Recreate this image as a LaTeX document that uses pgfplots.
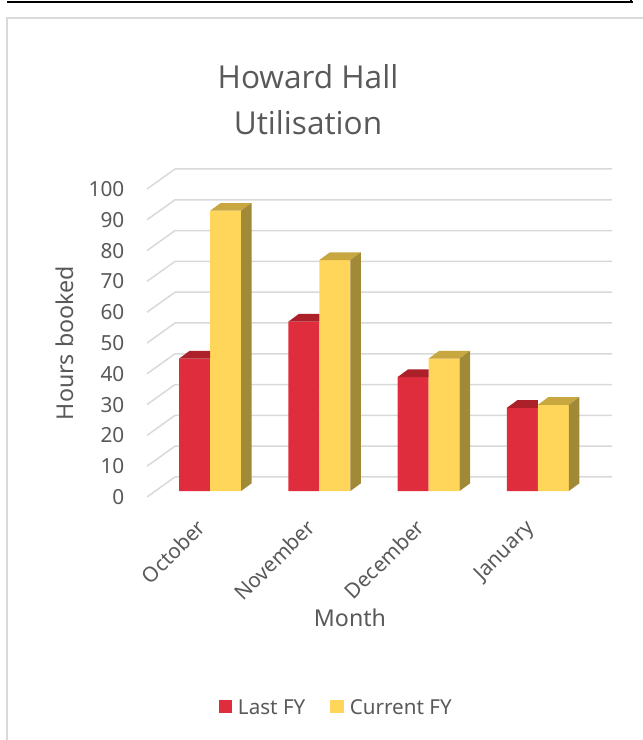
\documentclass[border=0pt]{standalone}
\usepackage{pgfplots}
\pgfplotsset{compat=1.18}
\usepackage{fontspec}
\setmainfont{Noto Sans}
\newfontfamily\titlefont{Open Sans}
\definecolor{txt}{HTML}{595959}
\definecolor{gridc}{HTML}{D9D9D9}
\definecolor{redF}{HTML}{E02D3E}
\definecolor{redT}{HTML}{AC202A}
\definecolor{yelF}{HTML}{FFD55A}
\definecolor{yelT}{HTML}{C8A640}
\definecolor{yelS}{HTML}{A08A38}
\definecolor{framec}{HTML}{D9D9D9}

\begin{document}
\begin{tikzpicture}[x=1pt,y=1pt]
% frame
\fill[black] (7,737) rectangle (633,739);
\fill[black] (630,737) rectangle (632,740);
\draw[framec, line width=2.5pt] (7,0) -- (7,722) -- (643,722);
% back wall and side wall gridlines
\foreach \v in {0,10,...,100}{
  \draw[gridc, line width=1.5pt] (147,{243+3.08*\v}) -- (175,{263+3.08*\v}) -- (612,{263+3.08*\v});
}
\begin{axis}[
  scale only axis, width=437pt, height=308pt,
  at={(155.5pt,249pt)}, anchor=south west,
  xmin=-0.5, xmax=3.5, ymin=0, ymax=100,
  ybar=0pt, bar width=31pt,
  axis line style={draw=none}, major tick length=0pt,
  xtick={0,1,2,3}, xticklabels={October,November,December,January},
  ytick={0,10,...,100},
  clip=false,
  ticklabel style={font=\fontsize{20.8}{25}\selectfont, text=txt},
  /pgf/number format/assume math mode=true,
  yticklabel style={anchor=east, inner sep=0pt, xshift=-31pt, yshift=-6pt},
  xticklabel style={xshift=-3pt, yshift=-38pt, rotate=45, anchor=base east, inner sep=0pt},
  legend columns=2,
  legend style={at={(axis description cs:0.411,-0.7045)}, anchor=center, draw=none, fill=none,
    font=\fontsize{20.6}{25}\selectfont, text=txt, nodes={inner sep=0pt},
    /tikz/every odd column/.append style={column sep=6pt},
    /tikz/every even column/.append style={column sep=25pt}},
  every node near coord/.append style={anchor=base west, inner sep=0pt, outer sep=0pt, xshift=-15.5pt},
]
\addplot[fill=redF, draw=none,
  visualization depends on={rawy \as \myy},
  nodes near coords={\tikz[x=1pt,y=1pt,baseline=0pt]{\fill[redT] (0,0)--(31,0)--(31,7.7)--(10.5,7.7)--cycle;}},
  legend image code/.code={\fill[redF] (0pt,-5pt) rectangle (13.5pt,8.5pt);}]
  coordinates {(0,43) (1,55) (2,37) (3,27)};
\addlegendentry{Last FY}
\addplot[fill=yelF, draw=none,
  visualization depends on={rawy \as \myy},
  nodes near coords={\tikz[x=1pt,y=1pt,baseline=0pt]{\pgfmathsetmacro\hh{\myy*3.08}\fill[yelT] (0,0)--(31,0)--(41.5,7.7)--(10.5,7.7)--cycle; \fill[yelS] (31,0)--(41.5,7.7)--(41.5,7.7-\hh)--(31,-\hh)--cycle;}},
  legend image code/.code={\fill[yelF] (0pt,-5pt) rectangle (13.5pt,8.5pt);}]
  coordinates {(0,91) (1,75) (2,43) (3,28)};
\addlegendentry{Current FY}
\end{axis}
\node[align=center, font=\titlefont\fontsize{31.6}{46}\selectfont, text=txt] at (308,640) {Howard Hall\\Utilisation};
\node[rotate=90, font=\fontsize{23.2}{28}\selectfont, text=txt] at (65,397) {Hours booked};
\node[font=\fontsize{23.2}{28}\selectfont, text=txt] at (350,122) {Month};
\pgfresetboundingbox
\useasboundingbox (0,0) rectangle (643,740);
\end{tikzpicture}
\end{document}
